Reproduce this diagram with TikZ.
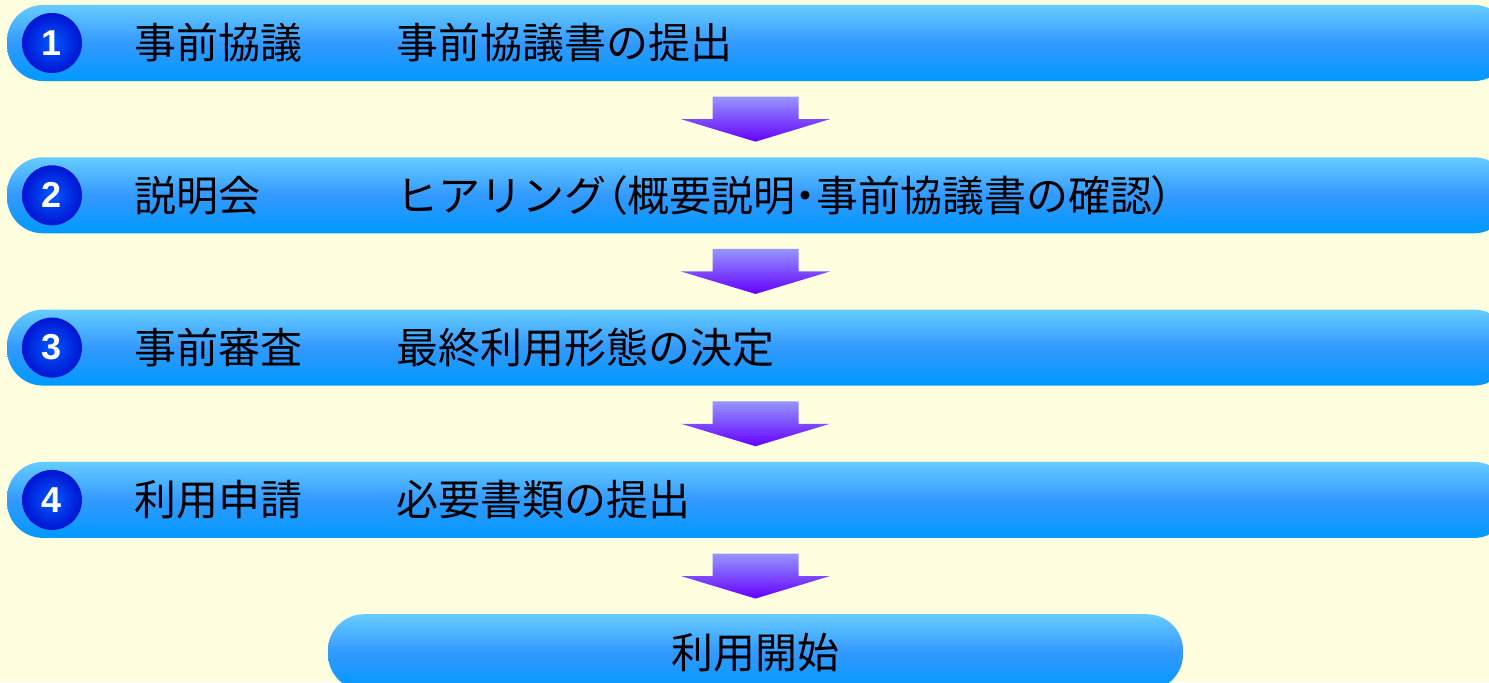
\documentclass[tikz,border=0pt]{standalone}
\usepackage{fontspec}
\setmainfont{Noto Sans CJK JP}
\newfontfamily\paltfont[RawFeature=+palt]{Noto Sans CJK JP}
\newfontfamily\numfont{Liberation Sans}
\usetikzlibrary{positioning,calc}

\definecolor{bgyellow}{RGB}{255,255,224}
\definecolor{barTop}{RGB}{102,204,255}
\definecolor{barMid}{RGB}{51,153,255}
\definecolor{barBot}{RGB}{0,153,255}
\definecolor{numIn}{RGB}{0,90,255}
\definecolor{numOut}{RGB}{0,20,210}
\definecolor{arrTop}{RGB}{150,150,255}
\definecolor{arrBot}{RGB}{100,0,255}

\begin{document}
\begin{tikzpicture}[x=0.5pt, y=0.5pt,
    every node/.append style={inner sep=0pt},
    bar/.style={minimum width=751.5pt, minimum height=38pt, rounded corners=18pt,
        top color=barTop, bottom color=barBot, middle color=barMid},
    num/.style={circle, minimum size=30pt, inner color=numIn, outer color=numOut,
        text=white, font=\numfont\bfseries\fontsize{18}{20}\selectfont},
    label/.style={font=\fontsize{21}{24}\selectfont, anchor=west}]
   \useasboundingbox (0,0) rectangle (1489,682);
   \fill[bgyellow] (0,0) rectangle (1489,682);
   \clip (0,0) rectangle (1489,682);

   % steps
   \node [bar] (s1) at (758.5,639) {};
   \node [bar, below=37.75pt of s1] (s2) {};
   \node [bar, below=37.75pt of s2] (s3) {};
   \node [bar, below=37.75pt of s3] (s4) {};
   \node [bar, minimum width=427.5pt, below=37.75pt of s4, xshift=-1.5pt] (s5)
        {\fontsize{21}{24}\selectfont 利用開始};

   \node [num, right=7.5pt of s1.west] (n1) {1};
   \node [num, right=7.5pt of s2.west] (n2) {2};
   \node [num, right=7.5pt of s3.west] (n3) {3};
   \node [num, right=7.5pt of s4.west] (n4) {4};

   \node [label, right=63.5pt of s1.west] (t1) {事前協議};
   \node [label, right=63.5pt of s2.west] (t2) {説明会};
   \node [label, right=63.5pt of s3.west] (t3) {事前審査};
   \node [label, right=63.5pt of s4.west] (t4) {利用申請};

   \node [label, right=194.5pt of s1.west] (d1) {事前協議書の提出};
   \node [label, right=194.5pt of s2.west] (d2)
        {ヒアリング{\paltfont （}概要説明{\paltfont ・}事前協議書の確認{\paltfont ）}};
   \node [label, right=194.5pt of s3.west] (d3) {最終利用形態の決定};
   \node [label, right=194.5pt of s4.west] (d4) {必要書類の提出};

   % arrows between steps
   \foreach \a/\b in {s1/s2, s2/s3, s3/s4, s4/s5} {
      \coordinate (m) at (s5.north |- {$(\a.south)!0.5!(\b.north)$});
      \begin{scope}[shift={(m)}]
         \shade[top color=arrTop, bottom color=arrBot]
            (-43,22.5) -- (43,22.5) -- (43,0) -- (74.5,0) -- (0,-22.5)
            -- (-74.5,0) -- (-43,0) -- cycle;
      \end{scope}
   }
\end{tikzpicture}
\end{document}
